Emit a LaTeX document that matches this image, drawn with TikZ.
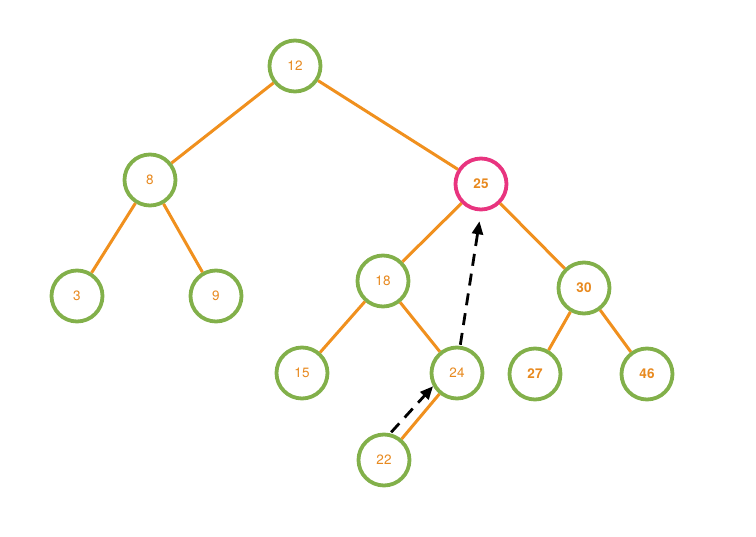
\documentclass[tikz,border=0pt]{standalone}
\usepackage{fontspec}
\setmainfont{TeX Gyre Heros}
\usetikzlibrary{arrows.meta}
\definecolor{ngreen}{HTML}{82B04A}
\definecolor{norange}{HTML}{F0901E}
\definecolor{npink}{HTML}{E8347F}
\definecolor{ntext}{HTML}{E8891E}
\begin{document}
\begin{tikzpicture}[x=1pt,y=-1pt,
  hnode/.style={circle,draw=ngreen,line width=3.8pt,minimum size=51pt,inner sep=0pt,fill=white,text=ntext,font=\fontsize{13.5}{15}\selectfont},
  hot/.style={draw=npink},
  bnum/.style={font=\fontsize{13.5}{15}\selectfont\bfseries},
  edge/.style={draw=norange,line width=3pt},
  move/.style={draw=black,line width=2.8pt,dash pattern=on 12pt off 8pt,-{Triangle[length=13pt,width=11pt]}}]
\useasboundingbox (0,0) rectangle (756,537);
\node[hnode] (n12) at (295,66) {12};
\node[hnode] (n8) at (150,180) {8};
\node[hnode,hot,bnum] (n25) at (481,184) {25};
\node[hnode] (n3) at (77,296) {3};
\node[hnode] (n9) at (216,296) {9};
\node[hnode] (n18) at (383,281) {18};
\node[hnode,bnum] (n30) at (584,288) {30};
\node[hnode] (n15) at (302,373) {15};
\node[hnode] (n24) at (457,373) {24};
\node[hnode,bnum] (n27) at (535,374) {27};
\node[hnode,bnum] (n46) at (647,374) {46};
\node[hnode] (n22) at (384,460) {22};
\path[edge] (n12) -- (n8);
\path[edge] (n12) -- (n25);
\path[edge] (n8) -- (n3);
\path[edge] (n8) -- (n9);
\path[edge] (n25) -- (n18);
\path[edge] (n25) -- (n30);
\path[edge] (n18) -- (n15);
\path[edge] (n18) -- (n24);
\path[edge] (n30) -- (n27);
\path[edge] (n30) -- (n46);
\path[edge] (n24) -- (n22);
\draw[move] ([shift={(1,-1)}]n22.77) -- (n24.209);
\draw[move,shorten >=10pt] ([shift={(0,-1)}]n24.83) -- (n25.south);
\end{tikzpicture}
\end{document}
